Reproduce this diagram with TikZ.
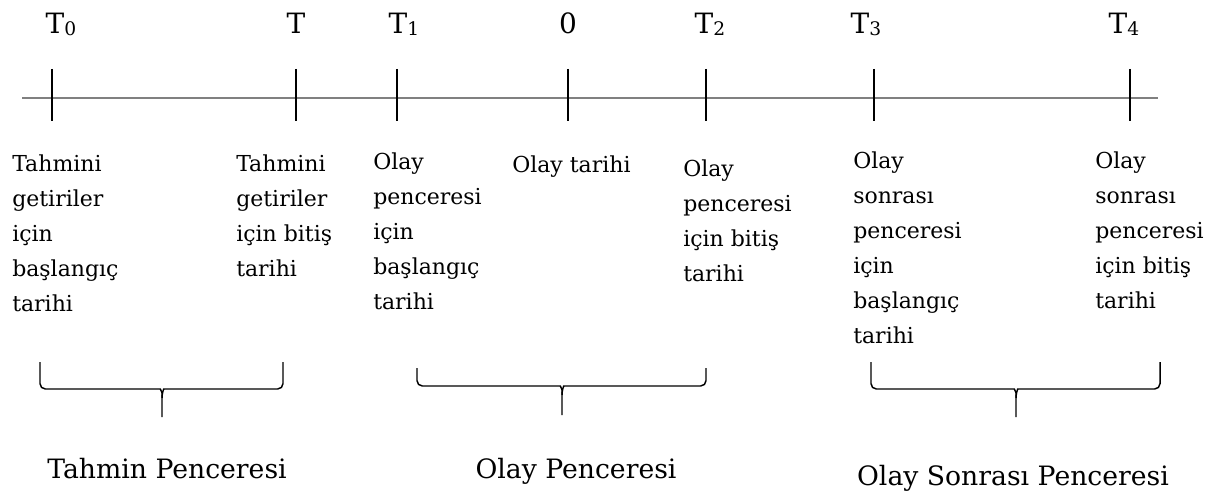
\documentclass[tikz,border=0pt]{standalone}
\usepackage{fontspec}
\setmainfont{DejaVu Serif}
\usepackage{tikz}

\newcommand{\altindis}[1]{\raisebox{-1.5pt}{\fontsize{14}{14}\selectfont #1}}

\begin{document}
\begin{tikzpicture}[x=0.75pt, y=-0.75pt,
        timelabel/.style={font=\fontsize{21}{24}\selectfont, anchor=base, inner sep=0pt},
        note/.style={font=\fontsize{16.5}{26.25}\selectfont, align=left, anchor=north west, inner sep=0pt},
        windowname/.style={font=\fontsize{20}{24}\selectfont, anchor=base, inner sep=0pt},
        tick/.style={line width=1.1pt},
        brace/.style={line width=1.1pt, rounded corners=4pt}]
            \useasboundingbox (0,0) rectangle (1220,495);

            \coordinate (start) at (22,98);
            \coordinate (end) at (1158,98);
            \draw[line width=2.2pt, color=gray] (start) to (end);

            \draw[tick] (52,69) to (52,121);
            \draw[tick] (296,69) to (296,121);
            \draw[tick] (397,69) to (397,121);
            \draw[tick] (568,69) to (568,121);
            \draw[tick] (706,69) to (706,121);
            \draw[tick] (874,69) to (874,121);
            \draw[tick] (1130,69) to (1130,121);

            \node[timelabel] (t0) at (61,34) {T\altindis{0}};
            \node[timelabel] (t) at (296,34) {T};
            \node[timelabel] (t1) at (404,34) {T\altindis{1}};
            \node[timelabel] (zero) at (568,34) {0};
            \node[timelabel] (t2) at (710,34) {T\altindis{2}};
            \node[timelabel] (t3) at (866,34) {T\altindis{3}};
            \node[timelabel] (t4) at (1124,34) {T\altindis{4}};

            \node[note] (basla0) at (12,155) {Tahmini\\getiriler\\için\\başlangıç\\tarihi};
            \node[note] (bitis0) at (236,155) {Tahmini\\getiriler\\için bitiş\\tarihi};
            \node[note] (basla1) at (373,153) {Olay\\penceresi\\için\\başlangıç\\tarihi};
            \node[note] (olay) at (512,156) {Olay tarihi};
            \node[note] (bitis1) at (683,160) {Olay\\penceresi\\için bitiş\\tarihi};
            \node[note] (basla2) at (853,152) {Olay\\sonrası\\penceresi\\için\\başlangıç\\tarihi};
            \node[note] (bitis2) at (1095,152) {Olay\\sonrası\\penceresi\\için bitiş\\tarihi};

            %\draw [decorate, decoration={brace, mirror, amplitude=20pt}] (40,362) to (283,362);
            \draw[brace] (40,362) -- (40,389) -- (155,389) .. controls (160,389) and (162,392) .. (162,398) -- (162,417);
            \draw[brace] (283,362) -- (283,389) -- (169,389) .. controls (164,389) and (162,392) .. (162,398);

            \draw[brace] (417,368) -- (417,386) -- (555,386) .. controls (560,386) and (562,389) .. (562,395) -- (562,415);
            \draw[brace] (706,368) -- (706,386) -- (569,386) .. controls (564,386) and (562,389) .. (562,395);

            \draw[brace] (871,362) -- (871,389) -- (1009,389) .. controls (1014,389) and (1016,392) .. (1016,398) -- (1016,417);
            \draw[brace] (1160,362) -- (1160,389) -- (1023,389) .. controls (1018,389) and (1016,392) .. (1016,398);

            \node[windowname] (tahmin) at (167,478) {Tahmin Penceresi};
            \node[windowname] (pencere) at (576,478) {Olay Penceresi};
            \node[windowname] (sonrasi) at (1013,485) {Olay Sonrası Penceresi};
        \end{tikzpicture}
\end{document}
